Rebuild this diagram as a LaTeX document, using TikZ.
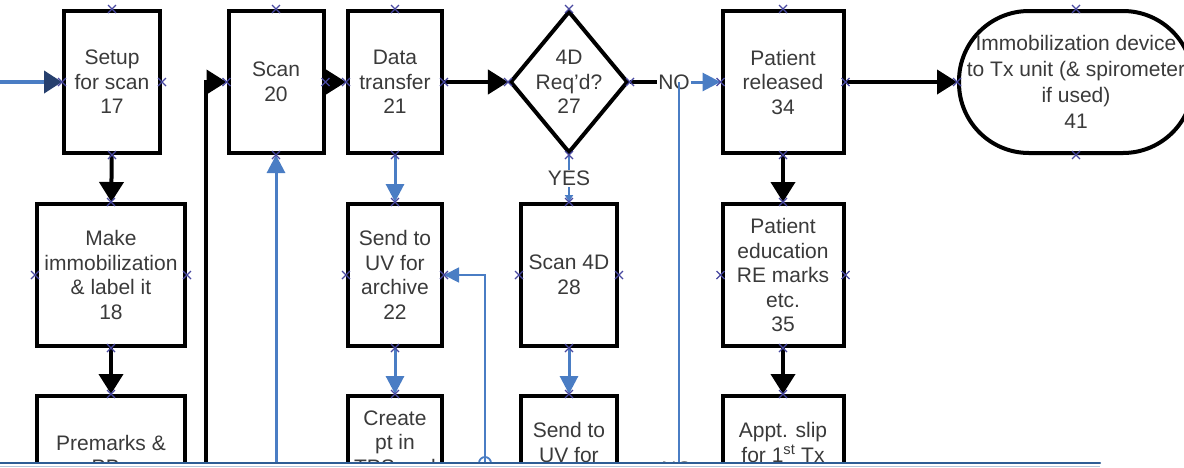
\documentclass[tikz,border=0pt]{standalone}
\usepackage{fontspec}
\setmainfont{Liberation Sans}
\usetikzlibrary{arrows.meta,shapes.geometric}
\definecolor{txtgray}{HTML}{3A3A3A}
\definecolor{flowblue}{HTML}{4A7DC4}
\definecolor{tipnavy}{HTML}{27406E}
\definecolor{pinblue}{HTML}{4848A0}
\definecolor{rimblue}{HTML}{2F5D95}
\tikzset{
  box/.style={draw, line width=4pt, minimum height=142pt, inner sep=2pt, align=center,
    text=txtgray, font=\fontsize{21}{24.5}\selectfont},
  decision/.style={draw, diamond, line width=4pt, minimum width=118pt, minimum height=142pt, inner sep=0pt},
  terminal/.style={draw, line width=4pt, rounded corners=70pt, minimum width=234pt, minimum height=142pt,
    inner sep=1pt, align=center, text=txtgray, font=\fontsize{21}{26}\selectfont},
  lbl/.style={inner sep=1pt, align=center, text=txtgray, font=\fontsize{21}{24.5}\selectfont},
  flow/.style={line width=4pt, -{Triangle[length=20pt,width=24pt]}},
  blueflow/.style={flowblue, line width=3pt, -{Triangle[length=18pt,width=18pt]}},
  thinflow/.style={flowblue, line width=1.8pt, -{Triangle[length=15pt,width=15pt]}},
  thinline/.style={flowblue, line width=1.8pt},
  cpt/.style={pinblue, line width=1.2pt},
}
\newcommand{\cpts}[1]{\foreach \a in {north,south,east,west}
  {\draw[cpt] (#1.\a) +(-4,-4) -- +(4,4) +(-4,4) -- +(4,-4);}}
\begin{document}
\begin{tikzpicture}[x=1pt, y=-1pt]
    \useasboundingbox (0,0) rectangle (1184,467);
    % first column
    \node (setup) at (112,82) [box, minimum width=96pt] {Setup\\for scan\\17};
    \node (immob) at (111,275) [box, minimum width=148pt] {Make\\immobilization\\\& label it\\18};
    \node (premarks) at (111,467) [box, minimum width=148pt] {Premarks \&\\PBs\\~};
    % scan and data
    \node (scan) at (276,82) [box, minimum width=95pt] {Scan\\20};
    \node (data) at (395,82) [box, minimum width=94pt] {Data\\transfer\\21};
    \node (uvarch) at (395,275) [box, minimum width=94pt] {Send to\\UV for\\archive\\22};
    \node (create) at (395,467) [box, minimum width=94pt] {Create\\pt in\\TPS and\\~\\~};
    % 4D branch
    \node (req) at (569,82) [decision, label={[lbl]center:{4D\\Req'd?\\27}}] {};
    \node (scanfour) at (569,275) [box, minimum width=96pt] {Scan 4D\\28};
    \node (uvfour) at (569,467) [box, minimum width=96pt] {Send to\\UV for\\~\\~};
    % patient column
    \node (released) at (783,82) [box, minimum width=121pt] {Patient\\released\\34};
    \node (educ) at (783,275) [box, minimum width=121pt] {Patient\\education\\RE marks\\etc.\\35};
    \node (appt) at (783,467) [box, minimum width=121pt] {Appt. slip\\for 1\textsuperscript{st} Tx\\~\\~};
    \node (device) at (1076,82) [terminal] {Immobilization device\\to Tx unit (\& spirometer\\if used)\\41};
    \node (nolbl) at (674,82) [lbl] {NO};
    \node (nolow) at (677,469) [lbl] {NO};
    \coordinate (entry) at (0,82);
    \coordinate (loopfoot) at (206,480);
    \coordinate (scanfoot) at (276,480);
    \coordinate (archfoot) at (485,480);
    \coordinate (nofoot) at (679,480);
    \coordinate (nojoin) at (679,82);
    \draw[flowblue, line width=4pt, -{Triangle[length=18pt,width=22pt,color=tipnavy]}] (entry) -- (setup);
    \draw[flow] (setup) -- (immob);
    \draw[flow] (immob) -- (premarks);
    \draw[flow] (loopfoot) |- (scan.west);
    \draw[flow] (scan) -- (data);
    \draw[flow] (data) -- (req);
    \draw[line width=4pt] (req) -- (nolbl);
    \draw[thinline] (nofoot) -- (nojoin);
    \draw[blueflow] (nolbl) -- (released);
    \draw[flow] (released) -- (device);
    \draw[flow] (released) -- (educ);
    \draw[flow] (educ) -- (appt);
    \draw[blueflow] (data) -- (uvarch);
    \draw[blueflow] (uvarch) -- (create);
    \draw[blueflow] (scanfour) -- (uvfour);
    \draw[blueflow] (scanfoot) -- (scan);
    \draw[thinflow] (archfoot) |- (uvarch.east);
    \draw[thinline] (485,463) circle (6);
    \draw[flowblue, line width=1.8pt, -{Triangle[length=7pt,width=8pt]}] (req) -- node[lbl, fill=white] {YES} (scanfour);
    % connection points
    \cpts{setup} \cpts{immob} \cpts{premarks}
    \cpts{scan} \cpts{data} \cpts{uvarch} \cpts{create}
    \cpts{req} \cpts{scanfour} \cpts{uvfour}
    \cpts{released} \cpts{educ} \cpts{appt} \cpts{device}
    % lower edge
    \fill[white] (0,464) rectangle (1184,490);
    \draw[rimblue, line width=2pt, line cap=round] (0,463) -- (1100,463);
    \draw[rimblue!35, line width=1pt] (0,466) -- (1100,466);
\end{tikzpicture}
\end{document}
